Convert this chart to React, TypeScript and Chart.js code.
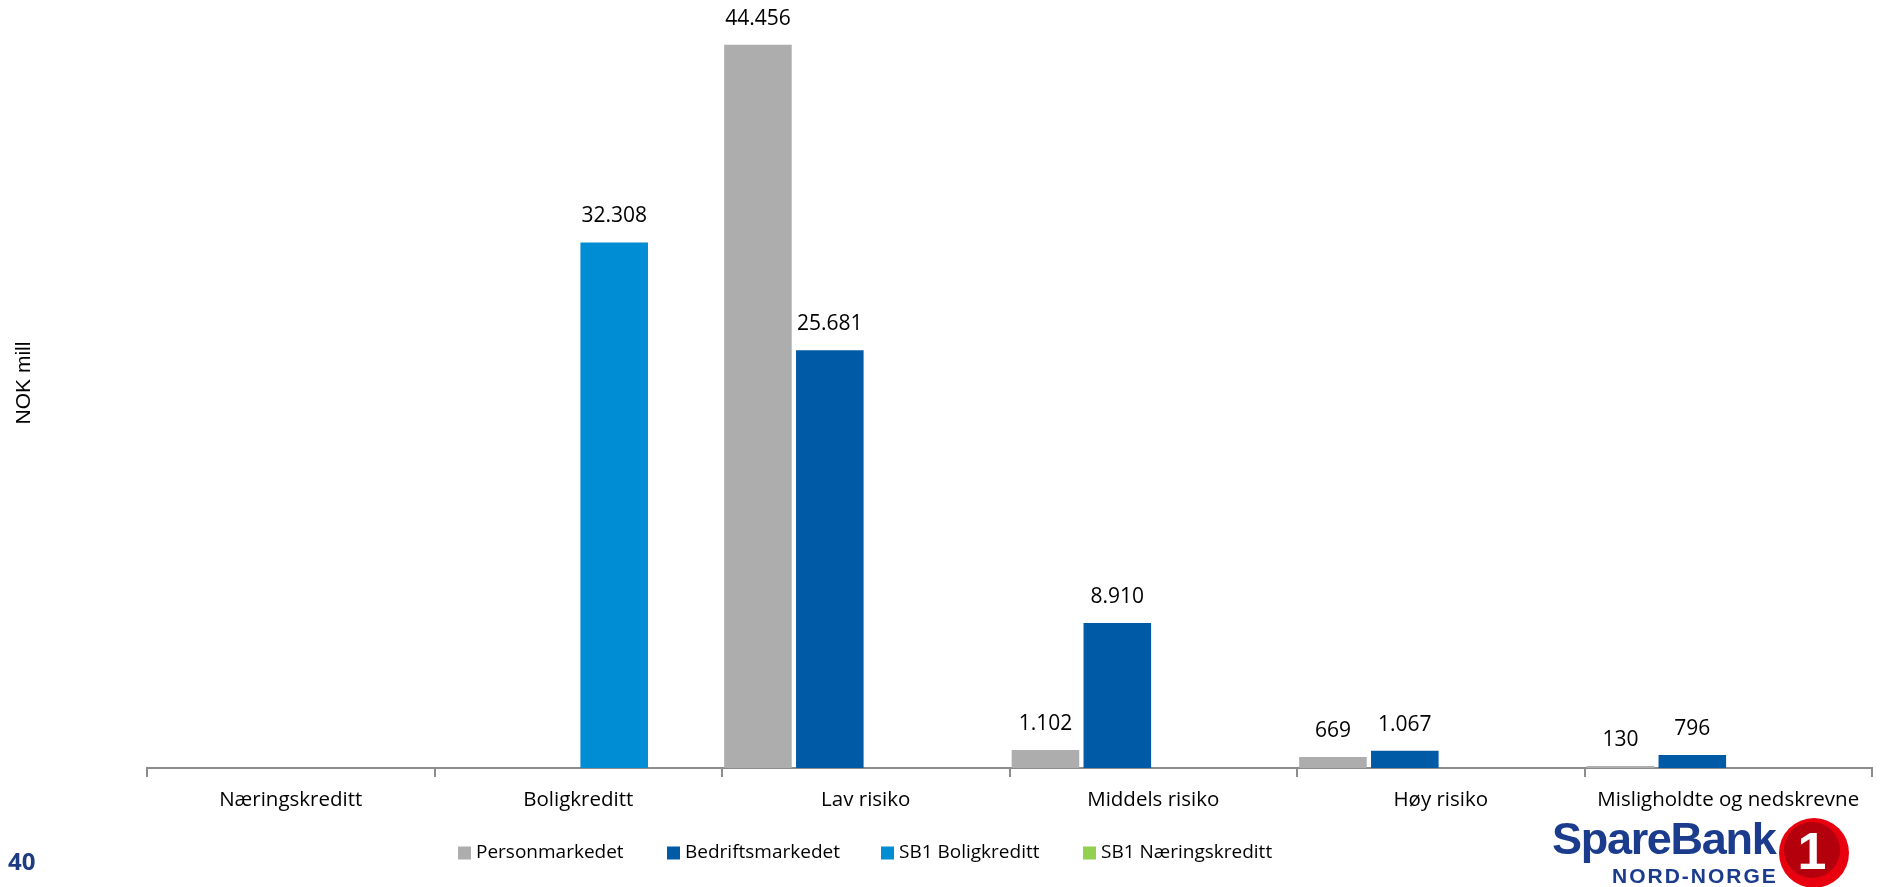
import React, { useEffect, useRef } from "react";
import { Chart, registerables } from "chart.js";

Chart.register(...registerables);

const categories = ["Næringskreditt", "Boligkreditt", "Lav risiko", "Middels risiko", "Høy risiko", "Misligholdte og nedskrevne"];
const personmarkedet = [null, null, 44456, 1102, 669, 130];
const bedriftsmarkedet = [null, null, 25681, 8910, 1067, 796];
const sb1Boligkreditt = [null, 32308, null, null, null, null];
const sb1Naeringskreditt = [null, null, null, null, null, null];
const seriesNames = ["Personmarkedet", "Bedriftsmarkedet", "SB1 Boligkreditt", "SB1 Næringskreditt"];
const seriesColors = ["#ADADAD", "#005AA5", "#008DD4", "#92D050"];
const yAxisTitle = "NOK mill";
const pageNumber = "40";

const fmt = (v: number) => String(v).replace(/\B(?=(\d{3})+(?!\d))/g, ".");

const W = 1888;
const H = 887;

const labelPlugin = {
  id: "valueLabels",
  afterDatasetsDraw(chart: any) {
    const ctx = chart.ctx;
    ctx.save();
    ctx.font = '21px "Open Sans"';
    ctx.fillStyle = "#000";
    ctx.textAlign = "center";
    ctx.textBaseline = "middle";
    chart.data.datasets.forEach((ds: any, i: number) => {
      const meta = chart.getDatasetMeta(i);
      meta.data.forEach((el: any, j: number) => {
        const v = ds.data[j];
        if (v === null || v === undefined) return;
        ctx.fillText(fmt(v), el.x, el.y - 26);
      });
    });
    ctx.restore();
  },
};

const extrasPlugin = {
  id: "extras",
  afterDraw(chart: any) {
    const ctx = chart.ctx;
    ctx.save();
    // y axis title
    ctx.translate(24, 383);
    ctx.rotate(-Math.PI / 2);
    ctx.font = '21px "Liberation Sans"';
    ctx.fillStyle = "#000";
    ctx.textAlign = "center";
    ctx.textBaseline = "middle";
    ctx.fillText(yAxisTitle, 0, 0);
    ctx.restore();

    // legend
    ctx.save();
    ctx.font = '19px "Open Sans"';
    ctx.textBaseline = "middle";
    ctx.textAlign = "left";
    const legendX = [458, 667, 881, 1083];
    const cy = 853;
    seriesNames.forEach((name, i) => {
      const x = legendX[i];
      ctx.fillStyle = seriesColors[i];
      ctx.fillRect(x, cy - 6.5, 13, 13);
      ctx.fillStyle = "#000";
      ctx.fillText(name, x + 18, cy);
    });
    ctx.restore();
  },
};

export default function App() {
  const ref = useRef<HTMLCanvasElement | null>(null);

  useEffect(() => {
    if (!ref.current) return;
    const series = [personmarkedet, bedriftsmarkedet, sb1Boligkreditt, sb1Naeringskreditt];
    const chart = new Chart(ref.current, {
      type: "bar",
      data: {
        labels: categories,
        datasets: series.map((d, i) => ({
          label: seriesNames[i],
          data: d,
          backgroundColor: seriesColors[i],
          categoryPercentage: 1.0,
          barPercentage: 0.94,
        })),
      },
      options: {
        responsive: false,
        animation: false,
        layout: { padding: { top: 36, left: 147, right: 16, bottom: 0 } },
        plugins: {
          legend: { display: false },
          tooltip: { enabled: false },
        },
        scales: {
          x: {
            afterFit: (scale: any) => {
              scale.height = 119;
            },
            grid: {
              display: true,
              drawOnChartArea: false,
              drawTicks: true,
              tickLength: 9,
              color: "#8C8C8C",
              lineWidth: 2,
              offset: true,
            },
            border: { display: true, color: "#8C8C8C", width: 2 },
            ticks: {
              color: "#000",
              font: { family: '"Open Sans"', size: 20.5 },
              padding: 11,
              maxRotation: 0,
              autoSkip: false,
            },
          },
          y: {
            display: false,
            min: 0,
            max: 45000,
          },
        },
      },
      plugins: [labelPlugin, extrasPlugin],
    } as any);
    return () => chart.destroy();
  }, []);

  return (
    <div style={{ position: "fixed", left: 0, top: 0, width: W, height: H, background: "#fff", overflow: "hidden" }}>
      <canvas ref={ref} width={W} height={H} style={{ position: "absolute", left: 0, top: 0, width: W, height: H }} />
      <div
        style={{
          position: "absolute",
          left: 8,
          top: 846,
          fontFamily: '"Open Sans", sans-serif',
          fontWeight: 700,
          fontSize: 24,
          lineHeight: "30px",
          color: "#1F3B82",
        }}
      >
        {pageNumber}
      </div>
      <div style={{ position: "absolute", left: 1550, top: 816, width: 338, height: 71 }}>
        <div
          style={{
            position: "absolute",
            left: 2,
            top: 0,
            fontFamily: '"Liberation Sans", Arial, sans-serif',
            fontWeight: 700,
            fontSize: 45,
            lineHeight: "46px",
            letterSpacing: "-1.3px",
            color: "#1B3C8C",
          }}
        >
          SpareBank
        </div>
        <div
          style={{
            position: "absolute",
            left: 62,
            top: 49,
            fontFamily: '"Liberation Sans", Arial, sans-serif',
            fontWeight: 700,
            fontSize: 21,
            lineHeight: "22px",
            letterSpacing: "2px",
            color: "#1B3C8C",
          }}
        >
          NORD-NORGE
        </div>
        <div
          style={{
            position: "absolute",
            left: 229,
            top: 2,
            width: 70,
            height: 70,
            borderRadius: "50%",
            background: "#E8000F",
          }}
        >
          <div
            style={{
              position: "absolute",
              left: 5,
              top: 4,
              width: 56,
              height: 56,
              borderRadius: "50%",
              background: "#B3000C",
            }}
          />
          <div
            style={{
              position: "absolute",
              left: 0,
              top: 0,
              width: 66,
              height: 66,
              textAlign: "center",
              fontFamily: '"Liberation Sans", Arial, sans-serif',
              fontWeight: 700,
              fontSize: 52,
              lineHeight: "66px",
              color: "#fff",
            }}
          >
            1
          </div>
        </div>
      </div>
    </div>
  );
}
